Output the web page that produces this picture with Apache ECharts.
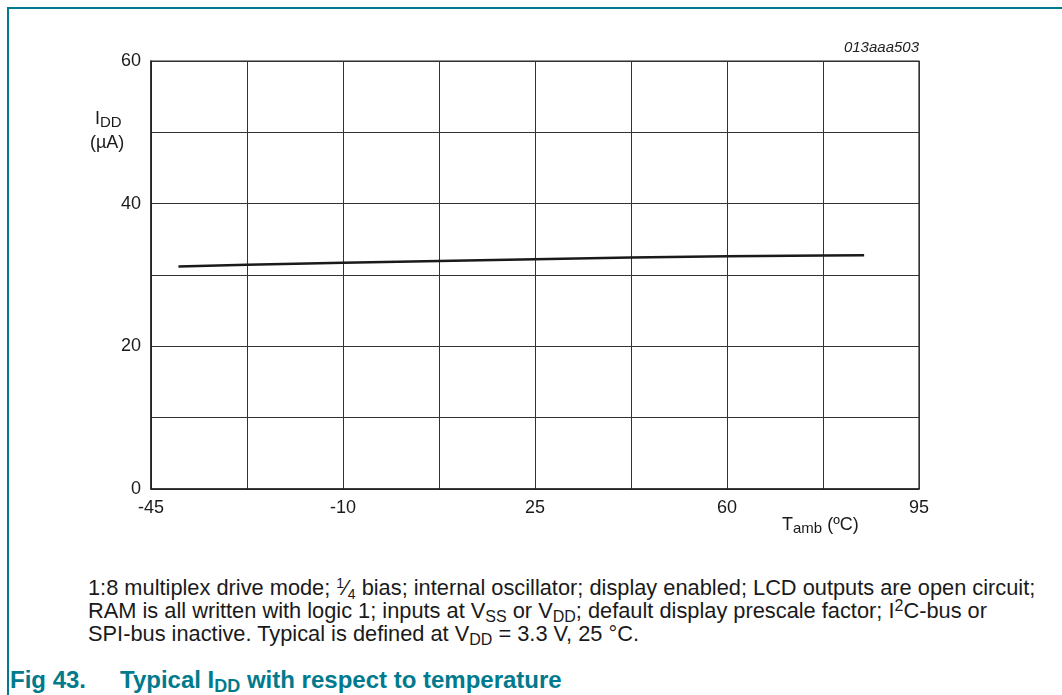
<!DOCTYPE html>
<html>
<head>
<meta charset="utf-8">
<script src="https://cdn.jsdelivr.net/npm/echarts@6/dist/echarts.min.js"></script>
<style>
  html, body { margin: 0; padding: 0; background: #fff; }
  #wrap { position: relative; width: 1062px; height: 695px; overflow: hidden; font-family: "Liberation Sans", Arial, sans-serif; }
  #frame { position: absolute; left: 7px; top: 7px; right: -10px; bottom: -10px; border-top: 2px solid #007A8C; border-left: 2px solid #007A8C; }
  #chart { position: absolute; left: 0; top: 0; width: 1062px; height: 560px; }
  #caption { position: absolute; left: 88px; top: 576px; font-size: 21.8px; line-height: 23px; color: #1a1a1a; white-space: nowrap; }
  #caption sub { font-size: 16px; vertical-align: -4px; line-height: 0; }
  #caption sup { font-size: 16px; vertical-align: 7px; line-height: 0; }
  #caption .fr { font-size: 14px; }
  .title { position: absolute; top: 666px; font-size: 24px; font-weight: bold; color: #007A8C; white-space: nowrap; line-height: 28px; }
  .title sub { font-size: 18px; vertical-align: -4px; line-height: 0; }
</style>
</head>
<body>
<div id="wrap">
  <div id="frame"></div>
  <div id="chart"></div>
  <div id="caption">1:8 multiplex drive mode; <sup class="fr">1</sup>&frasl;<sub class="fr">4</sub> bias; internal oscillator; display enabled; LCD outputs are open circuit;<br>RAM is all written with logic 1; inputs at V<sub>SS</sub> or V<sub>DD</sub>; default display prescale factor; I<sup>2</sup>C-bus or<br>SPI-bus inactive. Typical is defined at V<sub>DD</sub> = 3.3 V, 25 &deg;C.</div>
  <div class="title" style="left:10px">Fig 43.</div>
  <div class="title" style="left:120px">Typical I<sub>DD</sub> with respect to temperature</div>
</div>
<script>
// ---- data ----
var temperatures = [-40, -27.5, -10, 7.5, 25, 42.5, 60, 77.5, 85];   // Tamb (°C)
var iddValues    = [31.2, 31.45, 31.7, 31.95, 32.2, 32.45, 32.62, 32.72, 32.76]; // IDD (µA)
var xTickLabels  = [-45, -10, 25, 60, 95];
var yTickLabels  = [0, 20, 40, 60];
var xMinT = -45, xMaxT = 95, xGridStep = 17.5;
var yMin = 0, yMax = 60, yGridStep = 10;

// x axis is offset so ticks start at 0 (ECharts counts ticks from multiples of interval)
var xOffset = -xMinT;
var seriesData = temperatures.map(function (t, i) { return [t + xOffset, iddValues[i]]; });

var chart = echarts.init(document.getElementById('chart'), null, { renderer: 'canvas' });
var font = '"Liberation Sans", Arial, sans-serif';
chart.setOption({
  animation: false,
  grid: { left: 151, top: 61, width: 768, height: 428, show: false },
  xAxis: {
    type: 'value',
    min: 0, max: xMaxT - xMinT, interval: xGridStep,
    axisLine: { show: true, lineStyle: { color: '#222', width: 1.5 } },
    axisTick: { show: false },
    splitLine: { show: true, lineStyle: { color: '#333', width: 1 } },
    axisLabel: {
      color: '#1a1a1a', fontSize: 18, fontFamily: font, margin: 10,
      formatter: function (v) {
        var t = Math.round((v - xOffset) * 10) / 10;
        return xTickLabels.indexOf(t) >= 0 ? String(t) : '';
      }
    }
  },
  yAxis: {
    type: 'value',
    min: yMin, max: yMax, interval: yGridStep,
    axisLine: { show: true, lineStyle: { color: '#222', width: 1.5 } },
    axisTick: { show: false },
    splitLine: { show: true, lineStyle: { color: '#333', width: 1 } },
    axisLabel: {
      color: '#1a1a1a', fontSize: 18, fontFamily: font, margin: 10,
      formatter: function (v) { return yTickLabels.indexOf(v) >= 0 ? String(v) : ''; }
    }
  },
  graphic: [
    { type: 'rect', shape: { x: 151, y: 61, width: 768, height: 428 }, style: { fill: 'none', stroke: '#222', lineWidth: 1.2 }, silent: true, z: 0 },
    { type: 'text', left: 95, top: 110, style: { text: '{m|I}{s|DD}', rich: { m: { fontSize: 18, fontFamily: font, fill: '#1a1a1a' }, s: { fontSize: 15, fontFamily: font, fill: '#1a1a1a', verticalAlign: 'bottom', padding: [7, 0, 0, 0] } } } },
    { type: 'text', left: 90, top: 134, style: { text: '(µA)', fontSize: 18, fontFamily: font, fill: '#1a1a1a' } },
    { type: 'text', left: 782, top: 516, style: { text: '{m|T}{s|amb}{m| (ºC)}', rich: { m: { fontSize: 18, fontFamily: font, fill: '#1a1a1a' }, s: { fontSize: 15, fontFamily: font, fill: '#1a1a1a', verticalAlign: 'bottom', padding: [7, 0, 0, 0] } } } },
    { type: 'text', right: 1062 - 919, top: 40, style: { text: '013aaa503', fontSize: 15, fontStyle: 'italic', fontFamily: font, fill: '#222' } }
  ],
  series: [{
    type: 'line',
    data: seriesData,
    showSymbol: false,
    smooth: false,
    lineStyle: { color: '#1a1a1a', width: 2.5 },
    z: 5
  }]
});
</script>
</body>
</html>
